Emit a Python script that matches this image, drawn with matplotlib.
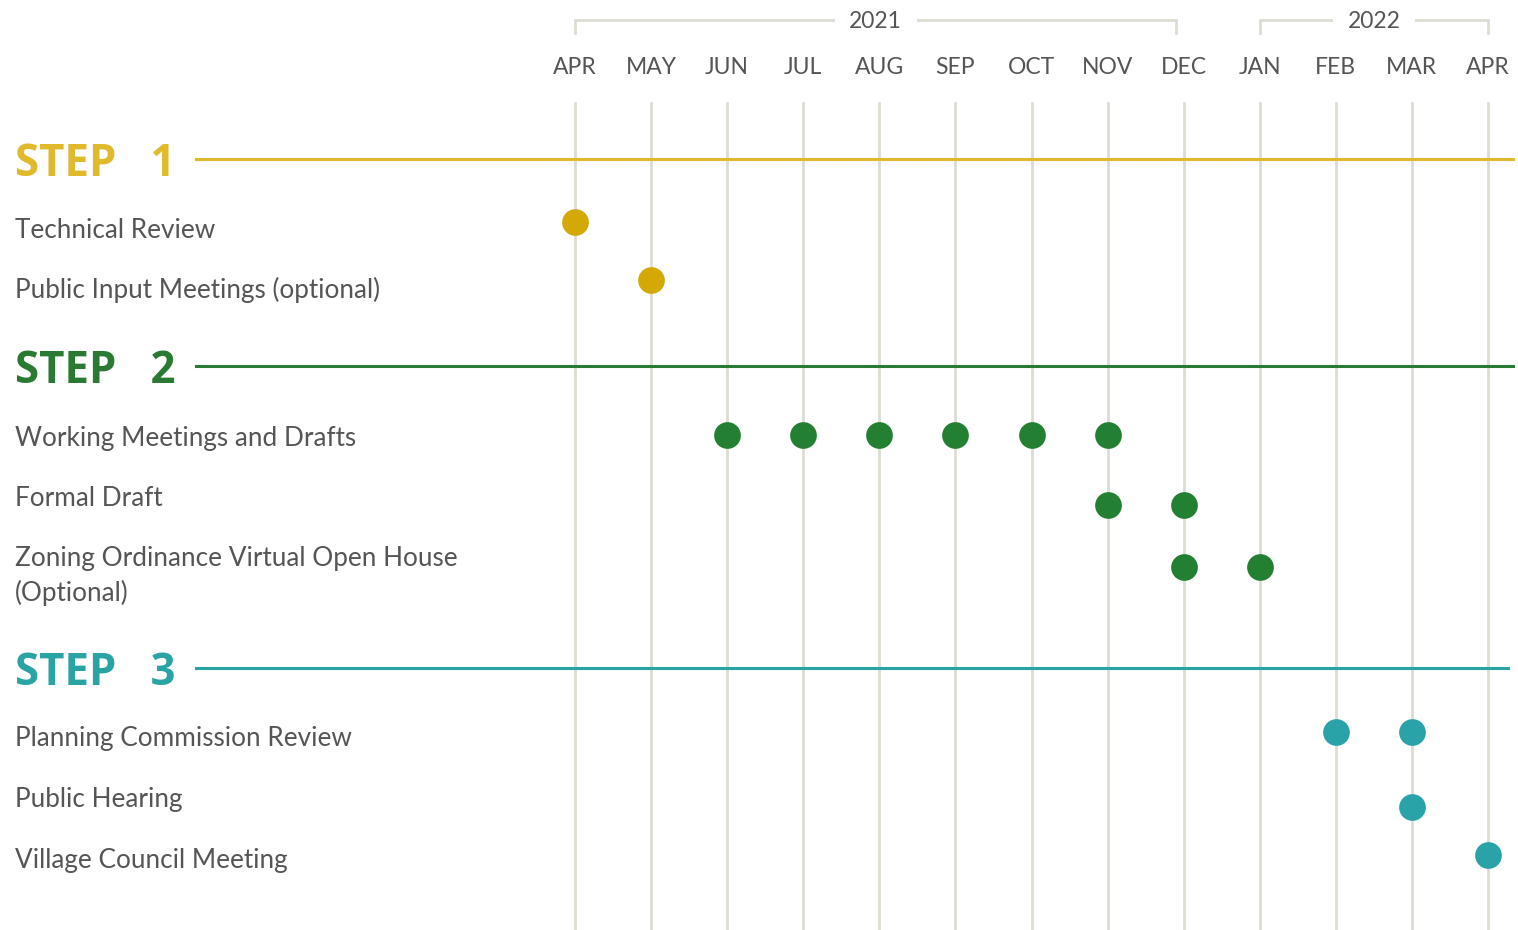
import matplotlib.pyplot as plt

months = ['APR', 'MAY', 'JUN', 'JUL', 'AUG', 'SEP', 'OCT', 'NOV', 'DEC', 'JAN', 'FEB', 'MAR', 'APR']
years = ['2021', '2022']
year_spans = [(0, 7.9), (9, 12)]

steps = ['STEP   1', 'STEP   2', 'STEP   3']
step_colors = ['#e0b92c', '#2a7a33', '#2aa3a5']
dot_colors = ['#d4a905', '#237f31', '#2aa3a8']

tasks = ['Technical Review', 'Public Input Meetings (optional)',
         'Working Meetings and Drafts', 'Formal Draft',
         'Zoning Ordinance Virtual Open House\n(Optional)',
         'Planning Commission Review', 'Public Hearing', 'Village Council Meeting']
task_step = [0, 0, 1, 1, 1, 2, 2, 2]
task_months = [[0], [1], [2, 3, 4, 5, 6, 7], [7, 8], [8, 9], [10, 11], [11], [12]]

# layout (pixel rows, y grows down)
step_y = [159, 366, 668]
step_end = [1513, 1513, 1508]
task_label_y = [230, 290, 438, 498, 576, 738, 799, 860]
task_dot_y = [222, 280, 435, 505, 567, 732, 807, 855]

plt.rcParams['font.family'] = ['Lato', 'DejaVu Sans']

fig = plt.figure(figsize=(15.18, 9.30), dpi=100)
ax = fig.add_axes([0, 0, 1, 1])
x0, dx = 575, (1488 - 575) / 12
ax.set_xlim(-x0 / dx, (1518 - x0) / dx)
ax.set_ylim(930, 0)
ax.axis('off')
grid_c = '#dcddd2'
txt_c = '#555555'

# month grid + labels
for i, m in enumerate(months):
    ax.plot([i, i], [103, 935], color=grid_c, lw=2, zorder=1)
    ax.text(i, 68, m, ha='center', va='center', fontsize=16.5, color=txt_c)

# year brackets
for yr, (a, b) in zip(years, year_spans):
    mid = (a + b) / 2
    gap = 0.56
    ax.plot([a, a, mid - gap], [33, 20, 20], color=grid_c, lw=2, solid_joinstyle='miter')
    ax.plot([mid + gap, b, b], [20, 20, 33], color=grid_c, lw=2, solid_joinstyle='miter')
    ax.text(mid, 22, yr, ha='center', va='center', fontsize=16.5, color=txt_c)

# step headers
x_lab = -x0 / dx + 15 / dx
for s, c, y, xe in zip(steps, step_colors, step_y, step_end):
    ax.text(x_lab, y + 5, s, ha='left', va='center', fontsize=31.5, fontweight='bold',
            color=c, family=['Open Sans', 'DejaVu Sans'])
    ax.plot([(196 - x0) / dx, (xe - x0) / dx], [y, y], color=c, lw=2.2, zorder=2)

# tasks
for t, st, ms, ly, dy in zip(tasks, task_step, task_months, task_label_y, task_dot_y):
    ax.text(x_lab, ly, t, ha='left', va='center', fontsize=18.8, color=txt_c, linespacing=1.45)
    ax.scatter(ms, [dy] * len(ms), s=370, color=dot_colors[st], zorder=3, linewidths=0)

fig.savefig('out.png', dpi=100)
